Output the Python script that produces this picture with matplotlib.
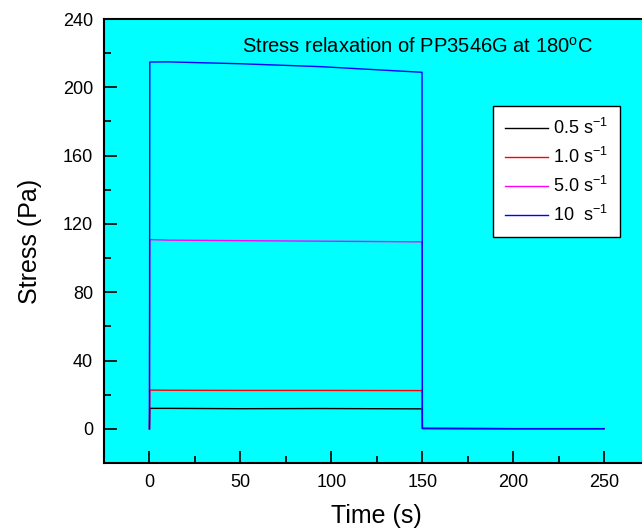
import matplotlib.pyplot as plt

plt.rcParams['font.family'] = ['Liberation Sans', 'DejaVu Sans']
plt.rcParams['mathtext.fontset'] = 'custom'
plt.rcParams['mathtext.rm'] = 'Liberation Sans'
plt.rcParams['mathtext.default'] = 'regular'

# time (s) and stress (Pa)
time = [0, 0.2, 10, 50, 94, 149.9, 150.1, 200, 250]
stress_05 = [0, 12.0, 12.0, 11.8, 11.9, 11.7, 0.2, 0.1, 0.1]
stress_10 = [0, 22.7, 22.6, 22.5, 22.5, 22.4, 0.2, 0.1, 0.1]
stress_50 = [0, 110.8, 110.5, 110.2, 109.9, 109.5, 0.2, 0.1, 0.1]
stress_100 = [0, 214.8, 214.9, 213.8, 212.1, 208.8, 0.3, 0.1, 0.1]

labels = ['0.5 s$^{-1}$', '1.0 s$^{-1}$', '5.0 s$^{-1}$', '10  s$^{-1}$']
colors = ['black', 'red', 'magenta', 'blue']

fig = plt.figure(figsize=(6.42, 5.31), dpi=100)
# the original is cropped on the right, so the axes run past the edge
ax = fig.add_axes([104 / 642, 68 / 531, 545.5 / 642, 444 / 531])
ax.set_facecolor('#00ffff')

for ys, lab, c in zip([stress_05, stress_10, stress_50, stress_100], labels, colors):
    ax.plot(time, ys, color=c, lw=1, label=lab)

ax.set_xlim(-25, 275)
ax.set_ylim(-20, 240)
ax.set_xticks([0, 50, 100, 150, 200, 250])
ax.set_xticks([25, 75, 125, 175, 225], minor=True)
ax.set_yticks(range(0, 241, 40))
ax.set_yticks(range(-20, 241, 40), minor=True)
ax.tick_params(which='major', direction='in', length=9, width=1.2, labelsize=13, pad=8)
ax.tick_params(which='minor', direction='in', length=5, width=1.2)
for s in ax.spines.values():
    s.set_linewidth(1.5)

ax.set_xlabel('Time (s)', fontsize=18, labelpad=9)
ax.set_ylabel('Stress (Pa)', fontsize=18, labelpad=15)

ax.text(0.253, 0.937, 'Stress relaxation of PP3546G at 180$^{o}$C',
        transform=ax.transAxes, fontsize=14.5, va='center', ha='left')

leg = ax.legend(loc='upper left', bbox_to_anchor=(0.713, 0.804), borderaxespad=0,
                fontsize=13, fancybox=False, framealpha=1, edgecolor='black',
                handlelength=2.4, handletextpad=0.3, labelspacing=0.5,
                borderpad=0.65)
leg.get_frame().set_linewidth(1)

fig.savefig('out.png', dpi=100)
